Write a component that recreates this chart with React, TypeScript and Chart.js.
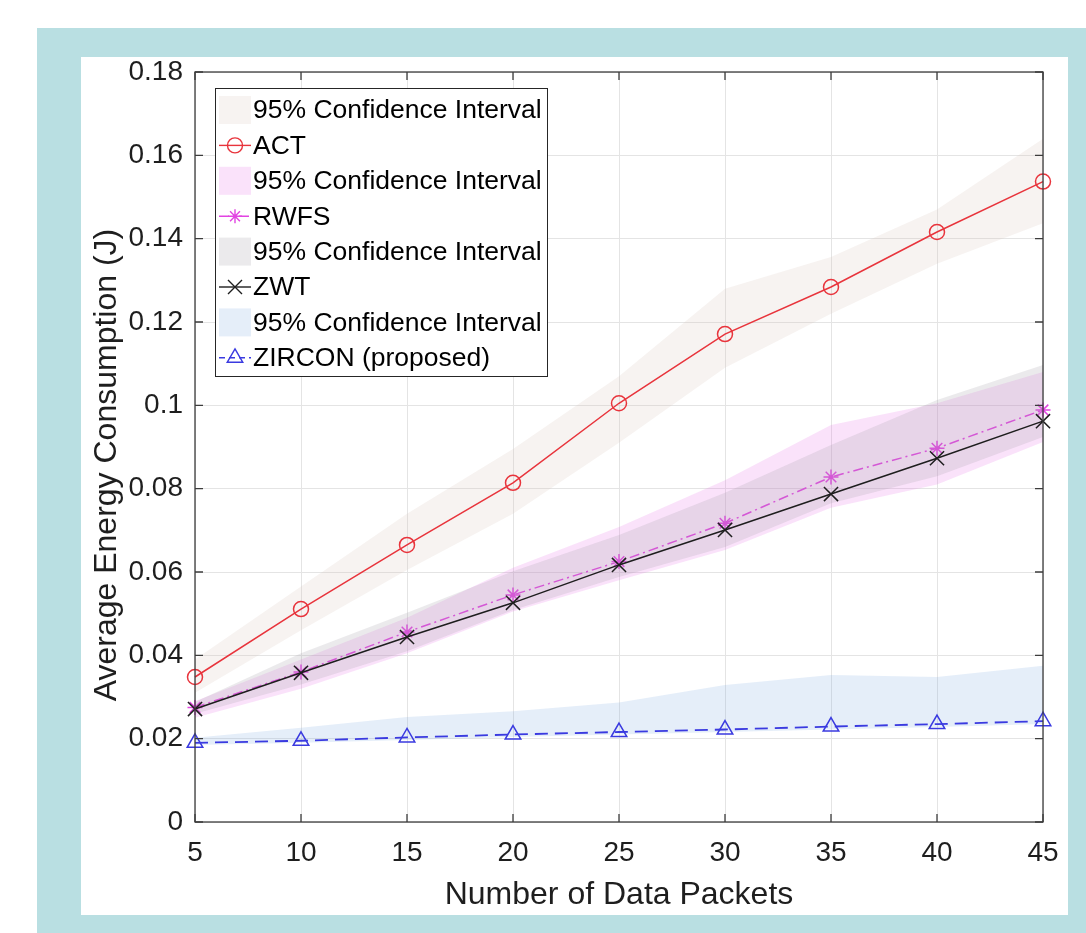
import React, { useEffect, useRef } from 'react';
import { Chart, registerables } from 'chart.js';

Chart.register(...registerables);

// ---------- data ----------
const xCategories = ['5', '10', '15', '20', '25', '30', '35', '40', '45'];
const yTickValues = [0, 0.02, 0.04, 0.06, 0.08, 0.1, 0.12, 0.14, 0.16, 0.18];
const yTickLabels = ['0', '0.02', '0.04', '0.06', '0.08', '0.1', '0.12', '0.14', '0.16', '0.18'];

const actMean = [0.0348, 0.0511, 0.0665, 0.0814, 0.1005, 0.1171, 0.1284, 0.1416, 0.1537];
const actLower = [0.031, 0.046, 0.0605, 0.074, 0.091, 0.109, 0.122, 0.134, 0.1437];
const actUpper = [0.039, 0.0565, 0.074, 0.0895, 0.107, 0.128, 0.1356, 0.147, 0.164];

const rwfsMean = [0.0275, 0.036, 0.0456, 0.0545, 0.0625, 0.0717, 0.0828, 0.0897, 0.0989];
const rwfsLower = [0.025, 0.032, 0.0405, 0.0505, 0.058, 0.0653, 0.0754, 0.081, 0.0912];
const rwfsUpper = [0.029, 0.039, 0.049, 0.061, 0.0708, 0.082, 0.0953, 0.1005, 0.108];

const zwtMean = [0.0271, 0.0358, 0.0444, 0.0526, 0.0617, 0.0701, 0.0787, 0.0873, 0.0962];
const zwtLower = [0.026, 0.033, 0.041, 0.0509, 0.0588, 0.066, 0.0765, 0.083, 0.0924];
const zwtUpper = [0.0288, 0.0405, 0.0502, 0.0602, 0.0689, 0.079, 0.0905, 0.1013, 0.1097];

const zirconMean = [0.019, 0.0195, 0.0203, 0.021, 0.0216, 0.0222, 0.0229, 0.0235, 0.0242];
const zirconLower = [0.0185, 0.019, 0.0197, 0.0204, 0.021, 0.0216, 0.0222, 0.0228, 0.0235];
const zirconUpper = [0.0202, 0.0226, 0.0252, 0.0266, 0.0287, 0.0329, 0.0353, 0.0348, 0.0375];

const legendLabels = [
  '95% Confidence Interval',
  'ACT',
  '95% Confidence Interval',
  'RWFS',
  '95% Confidence Interval',
  'ZWT',
  '95% Confidence Interval',
  'ZIRCON (proposed)',
];

const xTitle = 'Number of Data Packets';
const yTitle = 'Average Energy Consumption (J)';

// ---------- styles ----------
const FONT = '"Liberation Sans", Arial, Helvetica, sans-serif';
const TEXT = '#1e1e1e';
const AXIS = '#3c3c3c';
const GRID = '#e4e4e4';

const ACT_C = '#e8343c';
const RWFS_C = '#e244e2';
const ZWT_C = '#1e1e1e';
const ZIR_C = '#3a3ae0';

const ACT_F = 'rgba(215,195,185,0.2)';
const RWFS_F = 'rgba(232,110,232,0.2)';
const ZWT_F = 'rgba(165,160,170,0.22)';
const ZIR_F = 'rgba(125,170,225,0.2)';

type Marker = 'circle' | 'star' | 'x' | 'triangle';

function drawMarker(ctx: CanvasRenderingContext2D, kind: Marker, x: number, y: number, color: string) {
  ctx.save();
  ctx.strokeStyle = color;
  ctx.lineWidth = 1.4;
  ctx.setLineDash([]);
  ctx.beginPath();
  if (kind === 'circle') {
    ctx.arc(x, y, 7.5, 0, Math.PI * 2);
  } else if (kind === 'star') {
    const r = 7;
    const d = r * Math.SQRT1_2;
    ctx.moveTo(x, y - r); ctx.lineTo(x, y + r);
    ctx.moveTo(x - r, y); ctx.lineTo(x + r, y);
    ctx.moveTo(x - d, y - d); ctx.lineTo(x + d, y + d);
    ctx.moveTo(x - d, y + d); ctx.lineTo(x + d, y - d);
  } else if (kind === 'x') {
    const d = 7;
    ctx.moveTo(x - d, y - d); ctx.lineTo(x + d, y + d);
    ctx.moveTo(x - d, y + d); ctx.lineTo(x + d, y - d);
  } else {
    const r = 9;
    ctx.moveTo(x, y - r);
    ctx.lineTo(x + r * Math.cos(Math.PI / 6), y + r * 0.5);
    ctx.lineTo(x - r * Math.cos(Math.PI / 6), y + r * 0.5);
    ctx.closePath();
  }
  ctx.stroke();
  ctx.restore();
}

const boxPlugin = {
  id: 'matlabBox',
  afterDatasetsDraw(chart: any) {
    const { ctx, chartArea, scales } = chart;
    const { left, right, top, bottom } = chartArea;
    ctx.save();
    ctx.strokeStyle = AXIS;
    ctx.lineWidth = 1.3;
    ctx.setLineDash([]);
    ctx.strokeRect(left, top, right - left, bottom - top);
    const tl = 8;
    ctx.beginPath();
    scales.x.ticks.forEach((_t: any, i: number) => {
      const px = scales.x.getPixelForTick(i);
      ctx.moveTo(px, bottom); ctx.lineTo(px, bottom - tl);
      ctx.moveTo(px, top); ctx.lineTo(px, top + tl);
    });
    scales.y.ticks.forEach((_t: any, i: number) => {
      const py = scales.y.getPixelForTick(i);
      ctx.moveTo(left, py); ctx.lineTo(left + tl, py);
      ctx.moveTo(right, py); ctx.lineTo(right - tl, py);
    });
    ctx.stroke();
    ctx.restore();
  },
};

const yTitlePlugin = {
  id: 'yTitle',
  afterDraw(chart: any) {
    const { ctx, chartArea } = chart;
    ctx.save();
    ctx.translate(26, (chartArea.top + chartArea.bottom) / 2 + 18);
    ctx.rotate(-Math.PI / 2);
    ctx.fillStyle = TEXT;
    ctx.font = `32px ${FONT}`;
    ctx.textAlign = 'center';
    ctx.textBaseline = 'middle';
    ctx.fillText(yTitle, 0, 0);
    ctx.restore();
  },
};

const legendItems: { kind: 'fill' | 'line'; color: string; dash?: number[]; marker?: Marker }[] = [
  { kind: 'fill', color: ACT_F },
  { kind: 'line', color: ACT_C, dash: [], marker: 'circle' },
  { kind: 'fill', color: RWFS_F },
  { kind: 'line', color: RWFS_C, dash: [10, 4, 2, 4], marker: 'star' },
  { kind: 'fill', color: ZWT_F },
  { kind: 'line', color: ZWT_C, dash: [], marker: 'x' },
  { kind: 'fill', color: ZIR_F },
  { kind: 'line', color: ZIR_C, dash: [6, 4], marker: 'triangle' },
];

const legendPlugin = {
  id: 'matlabLegend',
  afterDraw(chart: any) {
    const { ctx, chartArea } = chart;
    const bx = chartArea.left + 20;
    const by = chartArea.top + 16;
    const bw = 332;
    const bh = 288;
    ctx.save();
    ctx.fillStyle = '#ffffff';
    ctx.fillRect(bx, by, bw, bh);
    ctx.strokeStyle = '#262626';
    ctx.lineWidth = 1;
    ctx.setLineDash([]);
    ctx.strokeRect(bx + 0.5, by + 0.5, bw, bh);
    legendLabels.forEach((label, i) => {
      const cy = by + 22 + i * 35.4;
      const it = legendItems[i];
      if (it.kind === 'fill') {
        ctx.fillStyle = it.color;
        ctx.fillRect(bx + 4, cy - 14, 32, 28);
      } else {
        ctx.strokeStyle = it.color;
        ctx.lineWidth = 1.4;
        ctx.setLineDash(it.dash || []);
        ctx.beginPath();
        ctx.moveTo(bx + 4, cy);
        ctx.lineTo(bx + 36, cy);
        ctx.stroke();
        drawMarker(ctx, it.marker as Marker, bx + 20, cy, it.color);
      }
      ctx.fillStyle = '#000000';
      ctx.font = `26.5px ${FONT}`;
      ctx.textBaseline = 'middle';
      ctx.textAlign = 'left';
      ctx.fillText(label, bx + 38, cy + 1);
    });
    ctx.restore();
  },
};

function bandLower(data: number[], order: number) {
  return { data, borderWidth: 0, pointRadius: 0, fill: false, order, borderColor: 'transparent' };
}
function bandUpper(data: number[], color: string, order: number) {
  return { data, borderWidth: 0, pointRadius: 0, fill: '-1', backgroundColor: color, order, borderColor: 'transparent' };
}
function meanLine(data: number[], color: string, dash: number[], style: string, radius: number, order: number, width = 1.5) {
  return {
    data,
    borderColor: color,
    borderWidth: width,
    borderDash: dash,
    pointStyle: style,
    pointRadius: radius,
    pointBorderColor: color,
    pointBackgroundColor: 'rgba(0,0,0,0)',
    pointBorderWidth: 1.5,
    fill: false,
    order,
    clip: false,
  };
}

export default function App() {
  const ref = useRef<HTMLCanvasElement | null>(null);

  useEffect(() => {
    if (!ref.current) return;
    const chart = new Chart(ref.current, {
      type: 'line',
      data: {
        labels: xCategories,
        datasets: [
          bandLower(actLower, 7),
          bandUpper(actUpper, ACT_F, 7),
          meanLine(actMean, ACT_C, [], 'circle', 7.5, 6),
          bandLower(rwfsLower, 5),
          bandUpper(rwfsUpper, RWFS_F, 5),
          meanLine(rwfsMean, RWFS_C, [10, 4, 2, 4], 'star', 7.5, 4),
          bandLower(zwtLower, 3),
          bandUpper(zwtUpper, ZWT_F, 3),
          meanLine(zwtMean, ZWT_C, [], 'crossRot', 10, 2),
          bandLower(zirconLower, 1),
          bandUpper(zirconUpper, ZIR_F, 1),
          meanLine(zirconMean, ZIR_C, [13, 7], 'triangle', 9, 0, 1.8),
        ] as any,
      },
      options: {
        responsive: false,
        animation: false,
        devicePixelRatio: 1,
        layout: { padding: { left: 0, top: 15, right: 25, bottom: 0 } },
        plugins: {
          legend: { display: false },
          tooltip: { enabled: false },
        },
        elements: { line: { tension: 0 } },
        scales: {
          x: {
            type: 'category',
            offset: false,
            grid: { color: GRID, lineWidth: 1, drawTicks: false },
            border: { display: false },
            ticks: {
              color: TEXT,
              font: { family: FONT, size: 28 },
              padding: 14,
              maxRotation: 0,
              autoSkip: false,
            },
            title: {
              display: true,
              text: xTitle,
              color: TEXT,
              font: { family: FONT, size: 32 },
              padding: { top: 0, bottom: 1 },
            },
            afterFit: (s: any) => {
              s.height = 93;
              s.paddingLeft = 0;
              s.paddingRight = 0;
            },
          },
          y: {
            type: 'linear',
            min: 0,
            max: 0.18,
            grid: { color: GRID, lineWidth: 1, drawTicks: false },
            border: { display: false },
            afterBuildTicks: (s: any) => {
              s.ticks = yTickValues.map((v) => ({ value: v }));
            },
            ticks: {
              color: TEXT,
              font: { family: FONT, size: 28 },
              padding: 12,
              callback: (_v: any, i: number) => yTickLabels[i],
            },
            title: { display: false },
            afterFit: (s: any) => {
              s.width = 114;
              s.paddingTop = 0;
              s.paddingBottom = 0;
            },
          },
        },
      } as any,
      plugins: [boxPlugin, yTitlePlugin, legendPlugin],
    });
    return () => chart.destroy();
  }, []);

  return (
    <div style={{ position: 'absolute', left: 0, top: 0, width: 1086, height: 933, background: '#ffffff', overflow: 'hidden' }}>
      <div style={{ position: 'absolute', left: 37, top: 28, width: 1049, height: 905, background: '#b9dfe2' }} />
      <div style={{ position: 'absolute', left: 81, top: 57, width: 987, height: 858, background: '#ffffff' }}>
        <canvas ref={ref} width={987} height={858} style={{ display: 'block', width: 987, height: 858 }} />
      </div>
    </div>
  );
}
